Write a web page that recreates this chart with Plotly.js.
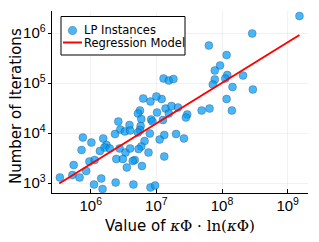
<!DOCTYPE html>
<html>
<head>
<meta charset="utf-8">
<script src="https://cdn.plot.ly/plotly-3.0.1.min.js"></script>
<style>html,body{margin:0;padding:0;background:#fff}#chart{width:319px;height:242px}</style>
</head>
<body>
<div id="chart"></div>
<script>
// log10 of x (kappa*Phi*ln(kappa*Phi)) and log10 of iterations
const logKappa = [9.18, 8.46, 7.80, 8.07, 7.97, 7.89, 7.89, 8.08, 8.05, 8.32, 7.86, 8.47, 8.07, 8.15, 7.69, 7.81, 7.47, 7.45,
  7.11, 7.19, 7.26, 7.08, 7.14, 7.23, 7.33, 7.19, 6.80, 6.75, 6.72, 6.91, 7.00, 7.01, 6.77, 6.92, 6.94, 7.10,
  6.76, 6.75, 6.72, 6.90, 7.12, 7.30, 7.05, 7.42, 6.82, 6.77, 6.73, 6.88, 6.67, 6.78, 7.12, 6.91, 6.98, 6.65,
  6.42, 6.59, 6.45, 6.52, 6.60, 6.37, 5.88, 6.19, 6.01, 6.24, 6.21, 6.29, 6.14, 6.44, 6.53, 6.60, 5.86, 6.39,
  6.49, 6.55, 5.74, 5.98, 6.06, 5.72, 5.83, 5.53, 6.16, 6.38, 6.05, 6.18, 5.93, 6.64, 8.16];
const logIters = [6.34, 5.99, 5.75, 5.56, 5.35, 5.25, 5.07, 5.16, 5.09, 5.15, 4.97, 4.87, 4.68, 4.45, 4.45, 4.49, 4.37, 4.31,
  5.09, 5.05, 5.08, 4.68, 4.49, 4.54, 4.51, 4.39, 4.69, 4.45, 4.39, 4.63, 4.73, 4.41, 4.28, 4.27, 4.23, 4.26,
  4.14, 4.06, 4.01, 3.99, 3.96, 3.98, 3.87, 3.89, 3.84, 3.73, 3.68, 3.61, 3.46, 3.34, 3.53, 2.91, 2.95, 2.97,
  4.23, 4.16, 4.07, 4.03, 4.05, 3.98, 3.91, 3.89, 3.81, 3.76, 3.71, 3.69, 3.64, 3.69, 3.61, 3.69, 3.66, 3.48,
  3.48, 3.31, 3.36, 3.43, 3.46, 3.16, 3.11, 3.11, 3.09, 3.01, 2.97, 2.88, 3.24, 3.44, 4.92];
// regression model endpoints (log10)
const regLogX = [5.52, 9.18];
const regLogY = [2.99, 5.96];
const seriesNames = ["LP Instances", "Regression Model"];
const xTitle = "Value of <span style=\"font-family:DejaVu Serif\"><i>κ</i>Φ · ln(<i>κ</i>Φ)</span>";
const yTitle = "Number of Iterations";

const pow10 = a => a.map(v => Math.pow(10, v));

const font = "DejaVu Sans, sans-serif";
const tickFont = {size: 12, family: "Liberation Sans, Arial, sans-serif", color: "#000"};
const traces = [
  {x: pow10(logKappa), y: pow10(logIters), type: "scatter", mode: "markers", name: seriesNames[0],
   marker: {size: 8, color: "rgba(0,154,250,0.72)", line: {color: "rgba(40,40,40,0.45)", width: 0.6}}},
  {x: pow10(regLogX), y: pow10(regLogY), type: "scatter", mode: "lines", name: seriesNames[1],
   line: {color: "#ff0000", width: 2}}
];

const W = 256, H = 182, L = 52, B = 193;
const px = v => (v - L) / W, py = v => (B - v) / H;

const layout = {
  width: 319, height: 242,
  margin: {l: 52, r: 11, t: 11, b: 49},
  paper_bgcolor: "#fff", plot_bgcolor: "#fff",
  showlegend: false,
  font: {family: font, color: "#000"},
  xaxis: {type: "log", range: [5.41, 9.31], dtick: 1, exponentformat: "power",
    showgrid: true, gridcolor: "rgba(0,0,0,0.1)", gridwidth: 0.5, zeroline: false,
    showline: true, linecolor: "#000", linewidth: 1,
    ticks: "inside", ticklen: 4, tickcolor: "#000", tickfont: tickFont,
    title: {text: xTitle, font: {size: 15, family: font}, standoff: 7}},
  yaxis: {type: "log", range: [2.8, 6.44], dtick: 1, exponentformat: "power",
    showgrid: true, gridcolor: "rgba(0,0,0,0.1)", gridwidth: 0.5, zeroline: false,
    showline: true, linecolor: "#000", linewidth: 1,
    ticks: "outside", ticklen: 3, tickcolor: "#000", tickfont: tickFont},
  shapes: [
    {type: "rect", xref: "paper", yref: "paper", x0: px(61), x1: px(185), y0: py(55), y1: py(16.5),
     line: {color: "#000", width: 1}, fillcolor: "#fff", layer: "above"},
    {type: "circle", xref: "paper", yref: "paper", x0: px(72.5 - 4.3), x1: px(72.5 + 4.3), y0: py(30.5 + 4.3), y1: py(30.5 - 4.3),
     line: {color: "rgba(40,40,40,0.45)", width: 0.6}, fillcolor: "rgba(0,154,250,0.72)", layer: "above"},
    {type: "line", xref: "paper", yref: "paper", x0: px(63), x1: px(82), y0: py(42.5), y1: py(42.5),
     line: {color: "#ff0000", width: 2}, layer: "above"}
  ],
  annotations: [
    {xref: "paper", yref: "paper", x: px(82), y: py(30.5), xanchor: "left", yanchor: "middle", showarrow: false,
     text: seriesNames[0], font: {size: 11.5, family: font}},
    {xref: "paper", yref: "paper", x: px(82), y: py(43), xanchor: "left", yanchor: "middle", showarrow: false,
     text: seriesNames[1], font: {size: 11.5, family: font}},
    {xref: "paper", yref: "paper", x: px(16), y: py(106), xanchor: "center", yanchor: "middle", showarrow: false,
     textangle: -90, text: yTitle, font: {size: 15, family: font}}
  ]
};

Plotly.newPlot("chart", traces, layout, {displayModeBar: false, staticPlot: true});
</script>
</body>
</html>
